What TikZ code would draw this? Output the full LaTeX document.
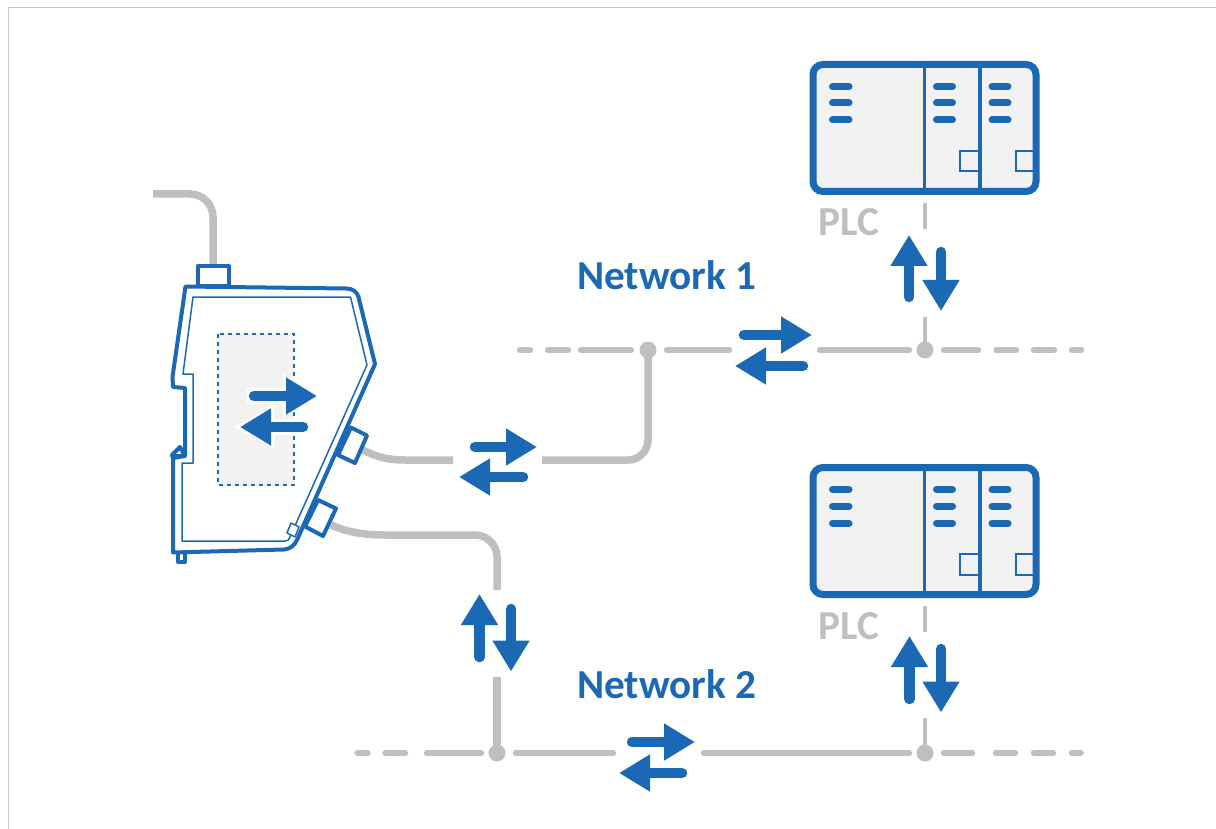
\documentclass[tikz,border=0pt]{standalone}
\usepackage{fontspec}
\setmainfont{Carlito}
\usetikzlibrary{arrows.meta}
\definecolor{netblue}{HTML}{1B68B4}
\definecolor{netgray}{HTML}{BEBFC1}
\definecolor{panel}{HTML}{F2F2F2}
\tikzset{
  flow/.style={line width=10.5pt,line cap=round,netblue,-{Triangle[length=31pt,width=35pt]}},
  halo/.style={draw=white,line width=6pt,fill=white,line join=miter},
  cable/.style={netgray,line width=7.5pt},
  dashseg/.style={netgray,line width=6.5pt,line cap=round},
  stub/.style={netgray,line width=3.5pt},
  joint/.style={circle,fill=netgray,inner sep=0pt,minimum size=17pt},
  shell/.style={draw=netblue,line width=4pt,line join=round},
  liner/.style={draw=netblue,line width=1.5pt,line join=round},
  plcbox/.style={draw=netblue,fill=panel,line width=7pt,rounded corners=10pt},
  divider/.style={netblue,line width=3.5pt},
  led/.style={netblue,line width=7pt,line cap=round},
  slot/.style={draw=netblue,line width=2pt},
  netlabel/.style={font=\fontsize{41.2}{41}\selectfont\bfseries,text=netblue,inner sep=0pt,anchor=base west},
  plclabel/.style={font=\fontsize{41.2}{41}\selectfont\bfseries,text=netgray,inner sep=0pt,anchor=base west},
}
\newcommand{\plcunit}[1]{%
  \begin{scope}[yshift=#1]
    \draw[plcbox] (813,64.5) rectangle (1036,191.5);
    \draw[divider] (924.5,64.5) -- (924.5,191.5);
    \draw[divider] (980,64.5) -- (980,191.5);
    \foreach \ly in {86.5,103,120}{
      \draw[led] (832.5,\ly) -- (849,\ly);
      \draw[led] (936.5,\ly) -- (952.5,\ly);
      \draw[led] (992,\ly) -- (1008,\ly);
    }
    \draw[slot] (979,151) -- (959.5,151) -- (959.5,171.5) -- (979,171.5);
    \draw[slot] (1033,151) -- (1016,151) -- (1016,171.5) -- (1033,171.5);
    \node[plclabel] at (818,236) {PLC};
    \draw[stub] (925,203) -- (925,229);
  \end{scope}}
\begin{document}
\begin{tikzpicture}[x=1pt,y=-1pt]
\useasboundingbox (0,0) rectangle (1216,829);
\fill[white] (0,0) rectangle (1216,829);
\draw[black!22,line width=1pt] (8,829) -- (8,7.5) -- (1216,7.5);

% cables
\draw[cable] (153,194) -- (190,194) arc[start angle=-90,end angle=0,radius=23] -- (213,268);
\draw[cable] (361,449) .. controls (375,456) and (385,460) .. (405,460) -- (453,460);
\draw[cable] (542,460) -- (628,460) arc[start angle=90,end angle=0,radius=20] -- (648,350);
\draw[cable] (331,525) .. controls (345,531) and (360,535) .. (385,535) -- (475,535) arc[start angle=-90,end angle=0,radius=22] -- (497,590);
\draw[cable] (497,677) -- (497,753);

% device
\draw[shell,fill=white] (178,552) rectangle (185,562);
\draw[shell,fill=white] (197.5,266.5) rectangle (229,286);
\draw[shell,fill=white] (351,427.5) -- (367,435.5) -- (355,463) -- (338,455) -- cycle;
\draw[shell,fill=white] (318,500) -- (336,508.5) -- (323,536) -- (305,526.5) -- cycle;
\draw[shell,fill=white]
  (185.5,286.5) -- (346,288.5) .. controls (353,288.5) and (357,292) .. (358.5,297)
  -- (375,364) -- (297,540) .. controls (294,546) and (290,549) .. (284,549.5)
  -- (173,552.5) -- (173,458) -- (172,455) -- (180,447) -- (185,456) -- (173,456)
  -- (173,458) -- (185,456) -- (185,388) -- (173,387) -- (172.5,377) -- cycle;
\draw[liner] (193,297) -- (350.5,297) -- (367,365) -- (290,537) .. controls (289,540) and (288,541) .. (285,541)
  -- (182,541) -- (182,463) -- (193,463) -- (193,374) -- (183,374) -- cycle;
\draw[liner,fill=white] (291,523) -- (299,527) -- (295,537) -- (287,533) -- cycle;

\draw[draw=netblue,fill=panel,line width=1.3pt,dash pattern=on 4pt off 4pt] (218,334) rectangle (294,485);
\draw[halo] (250,391) -- (286,391) -- (286,379) -- (317,396) -- (286,413) -- (286,401) -- (250,401) -- cycle;
\draw[halo] (308,422) -- (271,422) -- (271,410) -- (240,427) -- (271,444) -- (271,432) -- (308,432) -- cycle;
\coordinate (da1) at (254,396); \coordinate (da2) at (317,396);
\coordinate (db1) at (303,427); \coordinate (db2) at (240,427);
\draw[flow] (da1) -- (da2);
\draw[flow] (db1) -- (db2);

% network lines
\foreach \a/\b in {520/530,548/568,581/631,667/729,820/909,944/978,996.5/1016,1034/1054,1072/1081}
  \draw[dashseg] (\a,350) -- (\b,350);
\foreach \a/\b in {357.5/367.5,385.5/405,427/481,516/613,704/909,944/972,996/1015,1034/1053,1072/1080.5}
  \draw[dashseg] (\a,753) -- (\b,753);
\draw[stub] (925,317) -- (925,350);
\draw[stub] (925,718) -- (925,753);

\node[joint] (j1) at (648,350) {};
\node[joint] (j2) at (925,350) {};
\node[joint] (j3) at (497,753) {};
\node[joint] (j4) at (925,753) {};

% PLCs
\plcunit{0pt}
\plcunit{-403pt}

% arrows
\draw[flow] (744,335) -- (812,335);
\draw[flow] (803,366) -- (735,366);
\draw[flow] (475,447) -- (537,447);
\draw[flow] (523,477) -- (459,477);
\draw[flow] (632,742) -- (695,742);
\draw[flow] (682,773) -- (619,773);
\draw[flow] (909,297) -- (909,235);
\draw[flow] (941,252) -- (941,311);
\draw[flow] (479.5,657) -- (479.5,594);
\draw[flow] (511,609) -- (511,671.5);
\draw[flow] (909.5,699) -- (909.5,636);
\draw[flow] (941,649) -- (941,712.5);

\node[netlabel] (n1) at (577,290) {Network 1};
\node[netlabel] (n2) at (577,698) {Network 2};
\end{tikzpicture}
\end{document}
